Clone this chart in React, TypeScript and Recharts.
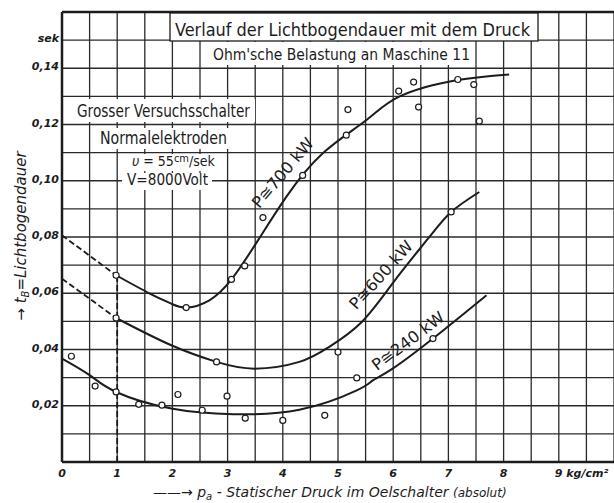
import React from 'react';
import {
  ComposedChart,
  Line,
  Scatter,
  XAxis,
  YAxis,
  CartesianGrid,
  ReferenceLine,
  ReferenceDot,
} from 'recharts';

// axis ticks (grid every 0.5 kg/cm² and 0.01 sek)
const xTicks = [0, 0.5, 1, 1.5, 2, 2.5, 3, 3.5, 4, 4.5, 5, 5.5, 6, 6.5, 7, 7.5, 8, 8.5, 9, 9.5, 10];
const yTicks = [0, 0.01, 0.02, 0.03, 0.04, 0.05, 0.06, 0.07, 0.08, 0.09, 0.1, 0.11, 0.12, 0.13, 0.14, 0.15, 0.16];

// P ≅ 700 kW
const curve700X = [0.98, 1.59, 1.98, 2.26, 2.67, 3.07, 3.55, 4.06, 4.72, 5.51, 6.11, 7.14, 8.1];
const curve700Y = [0.0664, 0.0599, 0.0563, 0.0549, 0.0575, 0.0649, 0.0788, 0.0942, 0.1097, 0.1215, 0.1299, 0.1357, 0.1378];
const dash700X = [0, 0.98];
const dash700Y = [0.0806, 0.0664];
const meas700X = [0.98, 2.25, 3.07, 3.31, 3.64, 4.36, 5.18, 5.15, 6.1, 6.37, 6.46, 7.17, 7.46, 7.56];
const meas700Y = [0.0664, 0.0549, 0.0649, 0.0697, 0.0869, 0.1019, 0.1253, 0.1162, 0.1319, 0.1351, 0.1262, 0.136, 0.1342, 0.1212];

// P ≅ 600 kW
const curve600X = [0.98, 1.98, 2.8, 3.49, 4.3, 4.83, 5.43, 6.03, 6.63, 7.05, 7.56];
const curve600Y = [0.0512, 0.0415, 0.0356, 0.0332, 0.0356, 0.0408, 0.0498, 0.0646, 0.0794, 0.0889, 0.096];
const dash600X = [0, 0.98];
const dash600Y = [0.0652, 0.0512];
const meas600X = [0.98, 2.8, 5.0, 7.05];
const meas600Y = [0.0512, 0.0356, 0.0391, 0.0889];

// P ≅ 240 kW
const curve240X = [0, 0.5, 0.98, 1.98, 3.1, 4.3, 5.34, 5.63, 5.99, 6.72, 7.69];
const curve240Y = [0.0368, 0.0309, 0.0249, 0.019, 0.017, 0.0186, 0.0255, 0.029, 0.0332, 0.0439, 0.0593];
const meas240X = [0.17, 0.6, 0.98, 1.39, 1.81, 2.1, 2.54, 2.99, 3.32, 4.0, 4.76, 5.34, 6.72];
const meas240Y = [0.0376, 0.027, 0.0249, 0.0205, 0.0202, 0.024, 0.0184, 0.0234, 0.0156, 0.0148, 0.0166, 0.0299, 0.0439];

// curve captions
const captionText = ['P≅700 kW', 'P≅600 kW', 'P≅240 kW'];
const captionX = [4.0, 5.78, 6.27];
const captionY = [0.1028, 0.0665, 0.043];
const captionAngle = [-50, -48, -37];

const zip = (xs: number[], ys: number[]) => xs.map((x, i) => ({ x, y: ys[i] }));

const INK = '#1c1c1c';
const LETTER = "'DejaVu Sans Condensed', 'Liberation Sans Narrow', 'DejaVu Sans', sans-serif";
const TICKFONT = "'DejaVu Sans', 'Liberation Sans', sans-serif";

const XTick = (props: any) => {
  const { x, y, payload } = props;
  const v = payload.value;
  if (Math.abs(v - Math.round(v)) > 1e-6 || v > 9) return null;
  const style = { fontFamily: TICKFONT, fontStyle: 'italic', fontWeight: 'bold', fontSize: 11, fill: INK } as any;
  if (Math.round(v) === 9) {
    return (
      <text x={x - 4} y={y + 15} textAnchor="start" {...style}>
        9 kg/cm²
      </text>
    );
  }
  return (
    <text x={x} y={y + 15} textAnchor="middle" {...style}>
      {v}
    </text>
  );
};

const YTick = (props: any) => {
  const { x, y, payload } = props;
  const k = Math.round(payload.value * 100);
  let s = '';
  if (k === 15) s = 'sek';
  else if (k > 0 && k <= 14 && k % 2 === 0) s = '0,' + String(k).padStart(2, '0');
  if (!s) return null;
  return (
    <text x={x} y={y + 2} textAnchor="end" fontFamily={TICKFONT} fontStyle="italic" fontWeight="bold" fontSize={11} fill={INK}>
      {s}
    </text>
  );
};

const Ring = (props: any) => (
  <circle cx={props.cx} cy={props.cy} r={3} fill="#fff" stroke={INK} strokeWidth={1.2} />
);

const makeCaption = (i: number) => (props: any) => (
  <text
    x={props.cx}
    y={props.cy}
    textAnchor="middle"
    dominantBaseline="central"
    transform={`rotate(${captionAngle[i]} ${props.cx} ${props.cy})`}
    fontFamily={LETTER}
    fontSize={16}
    fill={INK}
    textLength={86}
    lengthAdjust="spacingAndGlyphs"
  >
    {captionText[i]}
  </text>
);

export default function App() {
  return (
    <div style={{ position: 'absolute', left: 0, top: 0, width: 614, height: 503, background: '#fff' }}>
      <ComposedChart width={614} height={503} margin={{ top: 12, right: 0, bottom: 0, left: 2 }}>
        <CartesianGrid stroke="#2a2a2a" strokeWidth={1.3} />
        <XAxis
          type="number"
          dataKey="x"
          domain={[0, 10]}
          ticks={xTicks}
          interval={0}
          height={41}
          tickSize={0}
          tickMargin={0}
          tick={<XTick />}
          axisLine={{ stroke: INK, strokeWidth: 2.5 }}
          allowDataOverflow
        />
        <YAxis
          type="number"
          domain={[0, 0.16]}
          ticks={yTicks}
          interval={0}
          width={60}
          tickSize={0}
          tickMargin={3}
          tick={<YTick />}
          axisLine={{ stroke: INK, strokeWidth: 2.5 }}
          allowDataOverflow
        />
        <ReferenceLine y={0.16} stroke={INK} strokeWidth={2.5} />
        <ReferenceLine
          segment={[{ x: 1, y: 0 }, { x: 1, y: 0.0664 }]}
          stroke={INK}
          strokeWidth={1.8}
          strokeDasharray="6 3"
        />
        <Line data={zip(dash700X, dash700Y)} dataKey="y" type="linear" stroke={INK} strokeWidth={1.8} strokeDasharray="6 3" dot={false} isAnimationActive={false} />
        <Line data={zip(dash600X, dash600Y)} dataKey="y" type="linear" stroke={INK} strokeWidth={1.8} strokeDasharray="6 3" dot={false} isAnimationActive={false} />
        <Line data={zip(curve700X, curve700Y)} dataKey="y" type="natural" stroke={INK} strokeWidth={2} dot={false} isAnimationActive={false} />
        <Line data={zip(curve600X, curve600Y)} dataKey="y" type="natural" stroke={INK} strokeWidth={2} dot={false} isAnimationActive={false} />
        <Line data={zip(curve240X, curve240Y)} dataKey="y" type="natural" stroke={INK} strokeWidth={2} dot={false} isAnimationActive={false} />
        <Scatter data={zip(meas700X, meas700Y)} dataKey="y" shape={<Ring />} isAnimationActive={false} />
        <Scatter data={zip(meas600X, meas600Y)} dataKey="y" shape={<Ring />} isAnimationActive={false} />
        <Scatter data={zip(meas240X, meas240Y)} dataKey="y" shape={<Ring />} isAnimationActive={false} />
        {captionText.map((t, i) => (
          <ReferenceDot key={t} x={captionX[i]} y={captionY[i]} r={0} shape={makeCaption(i)} />
        ))}
      </ComposedChart>

      <svg width={614} height={503} style={{ position: 'absolute', left: 0, top: 0, pointerEvents: 'none' }}>
        {/* title box */}
        <rect x={170} y={13} width={368} height={28} fill="#fff" stroke={INK} strokeWidth={1.3} />
        <text x={175} y={36} fontFamily={LETTER} fontSize={17} fill={INK} textLength={355} lengthAdjust="spacingAndGlyphs">
          Verlauf der Lichtbogendauer mit dem Druck
        </text>
        <rect x={205} y={42} width={270} height={23} fill="#fff" />
        <text x={213} y={60} fontFamily={LETTER} fontSize={16} fill={INK} textLength={257} lengthAdjust="spacingAndGlyphs">
          Ohm'sche Belastung an Maschine 11
        </text>

        {/* switch description */}
        <rect x={72} y={99} width={183} height={23} fill="#fff" />
        <text x={77} y={117} fontFamily={LETTER} fontSize={17} fill={INK} textLength={173} lengthAdjust="spacingAndGlyphs">
          Grosser Versuchsschalter
        </text>
        <rect x={96} y={128} width={135} height={21} fill="#fff" />
        <text x={100} y={144} fontFamily={LETTER} fontSize={17} fill={INK} textLength={127} lengthAdjust="spacingAndGlyphs">
          Normalelektroden
        </text>
        <rect x={128} y={154} width={90} height={17} fill="#fff" />
        <text x={132} y={166} fontFamily={LETTER} fontSize={14} fill={INK}>
          <tspan fontStyle="italic">υ</tspan> = 55<tspan dy={-4} fontSize={11}>cm</tspan>
          <tspan dy={4}>/sek</tspan>
        </text>
        <rect x={122} y={173} width={90} height={17} fill="#fff" />
        <text x={127} y={185} fontFamily={LETTER} fontSize={15} fill={INK} textLength={81} lengthAdjust="spacingAndGlyphs">
          V=8000Volt
        </text>

        {/* axis titles */}
        <text
          x={26}
          y={236}
          transform="rotate(-90 26 236)"
          textAnchor="middle"
          fontFamily={TICKFONT}
          fontStyle="italic"
          fontSize={15}
          fill={INK}
        >
          → t<tspan dy={3} fontSize={10}>B</tspan>
          <tspan dy={-3}>=Lichtbogendauer</tspan>
        </text>
        <text x={153} y={497} fontFamily={TICKFONT} fontStyle="italic" fontSize={14} fill={INK}>
          ——→ p<tspan dy={3} fontSize={10}>a</tspan>
          <tspan dy={-3}> - Statischer Druck im Oelschalter </tspan>
          <tspan fontSize={12}>(absolut)</tspan>
        </text>
      </svg>
    </div>
  );
}
